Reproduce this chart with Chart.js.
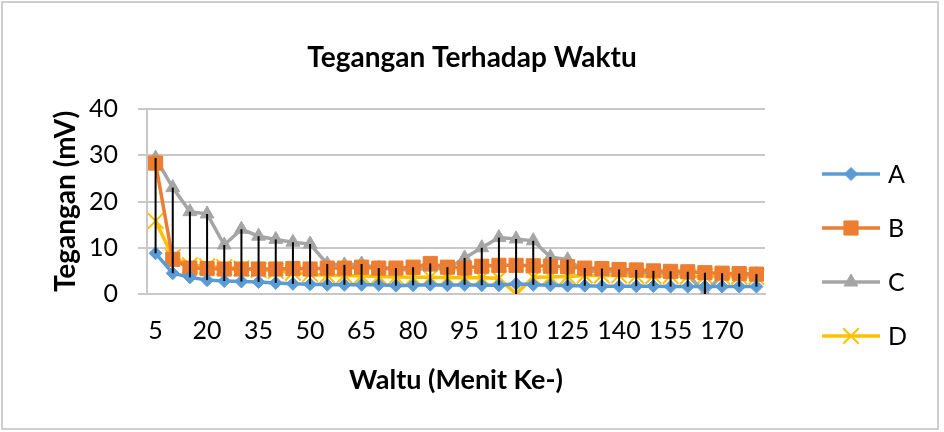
<!DOCTYPE html>
<html>
<head>
<meta charset="utf-8">
<script src="https://cdn.jsdelivr.net/npm/chart.js@4/dist/chart.umd.min.js"></script>
<style>
    html, body { margin: 0; padding: 0; background: #fff; }
</style>
</head>
<body>
<canvas id="voltageChart" width="944" height="432"></canvas>
<script>
// Menit ke- (x categories)
const minutes = [5, 10, 15, 20, 25, 30, 35, 40, 45, 50, 55, 60, 65, 70, 75, 80, 85, 90,
                 95, 100, 105, 110, 115, 120, 125, 130, 135, 140, 145, 150, 155, 160, 165, 170, 175, 180];

// Tegangan (mV) per series
const seriesA = [8.8, 4.5, 3.6, 3.0, 2.8, 2.7, 2.6, 2.4, 2.2, 2.1, 2.0, 2.0, 2.0, 2.0, 1.8, 1.9, 2.0, 1.9,
                 2.0, 1.9, 1.9, 2.2, 2.0, 1.9, 1.8, 1.8, 1.7, 1.7, 1.7, 1.7, 1.6, 1.6, 1.6, 1.6, 1.6, 1.6];
const seriesB = [28.3, 7.5, 5.6, 5.5, 5.4, 5.4, 5.4, 5.4, 5.5, 5.4, 5.6, 5.6, 5.8, 5.6, 5.6, 5.8, 6.6, 5.8,
                 5.6, 6.0, 6.2, 6.2, 6.1, 6.0, 5.9, 5.6, 5.5, 5.3, 5.2, 5.0, 4.9, 4.8, 4.6, 4.5, 4.4, 4.3];
const seriesC = [29.4, 23.0, 17.8, 17.3, 10.6, 14.0, 12.5, 11.8, 11.2, 10.8, 6.5, 6.3, 6.5, 5.6, 5.3, 5.2, 5.8, 5.4,
                 7.8, 10.0, 12.2, 11.9, 11.5, 8.0, 7.4, 5.0, 4.8, 4.8, 4.6, 4.6, 4.5, 4.4, 0, 4.3, 4.2, 4.2];
const seriesD = [15.8, 8.0, 6.2, 6.0, 5.8, 5.5, 5.2, 5.0, 4.6, 4.3, 4.0, 4.0, 3.9, 3.8, 3.7, 3.6, 3.6, 3.5,
                 3.5, 3.5, 3.4, 0, 3.6, 3.7, 3.8, 4.0, 4.0, 4.0, 3.9, 3.9, 3.9, 3.8, 3.8, 3.8, 3.8, 3.7];

const seriesNames = ["A", "B", "C", "D"];
const yTicks = [0, 10, 20, 30, 40];
const chartTitle = "Tegangan Terhadap Waktu";

const FONT = "Lato, 'Open Sans', sans-serif";
const GRID = "#c8c8c8";

function makeSet(label, data, color, style, radius) {
    return {
        label,
        data,
        borderColor: color,
        backgroundColor: color,
        borderWidth: 3.5,
        pointStyle: style,
        pointRadius: radius,
        pointHoverRadius: radius,
        pointBorderWidth: style === "crossRot" ? 2 : 1,
        pointBackgroundColor: color,
        pointBorderColor: color,
        tension: 0,
        fill: false
    };
}

// white background, frame round the chart, title centred on the whole canvas
const frame = {
    id: "frame",
    beforeDraw(chart) {
        const ctx = chart.ctx;
        ctx.save();
        ctx.fillStyle = "#fff";
        ctx.fillRect(0, 0, chart.width, chart.height);
        ctx.strokeStyle = "#bfbfbf";
        ctx.lineWidth = 1.5;
        ctx.strokeRect(2, 2, chart.width - 8, chart.height - 5);
        ctx.fillStyle = "#000";
        ctx.font = "bold 28px " + FONT;
        ctx.textAlign = "center";
        ctx.textBaseline = "middle";
        ctx.fillText(chartTitle, chart.width / 2, 58);
        ctx.restore();
    }
};

// Excel style high-low lines: from the highest to the lowest series value at each category
const highLow = {
    id: "highLow",
    afterDatasetsDraw(chart) {
        const ctx = chart.ctx;
        const x = chart.scales.x, y = chart.scales.y;
        ctx.save();
        ctx.strokeStyle = "#000";
        ctx.lineWidth = 2;
        minutes.forEach((m, i) => {
            const vals = chart.data.datasets.map(ds => ds.data[i]);
            const px = x.getPixelForValue(i);
            ctx.beginPath();
            ctx.moveTo(px, y.getPixelForValue(Math.max(...vals)));
            ctx.lineTo(px, y.getPixelForValue(Math.min(...vals)));
            ctx.stroke();
        });
        ctx.restore();
    }
};

// legend on the right: line with marker, then the name
const sideLegend = {
    id: "sideLegend",
    afterDraw(chart) {
        const ctx = chart.ctx;
        const left = chart.chartArea.right + 57;
        const top = 174, gap = 54;
        ctx.save();
        chart.data.datasets.forEach((ds, i) => {
            const cy = top + i * gap;
            ctx.strokeStyle = ds.borderColor;
            ctx.fillStyle = ds.borderColor;
            ctx.lineWidth = 3.5;
            ctx.beginPath();
            ctx.moveTo(left, cy);
            ctx.lineTo(left + 58, cy);
            ctx.stroke();
            ctx.lineWidth = ds.pointBorderWidth;
            Chart.helpers.drawPoint(ctx, {
                pointStyle: ds.pointStyle,
                radius: ds.pointRadius,
                borderWidth: ds.pointBorderWidth,
                rotation: 0
            }, left + 29, cy);
            ctx.fillStyle = "#000";
            ctx.font = "25px " + FONT;
            ctx.textBaseline = "middle";
            ctx.textAlign = "left";
            ctx.fillText(seriesNames[i], left + 66, cy + 1);
        });
        ctx.restore();
    }
};

new Chart(document.getElementById("voltageChart"), {
    type: "line",
    data: {
        labels: minutes,
        datasets: [
            makeSet(seriesNames[0], seriesA, "#5b9bd5", "rectRot", 6.5),
            makeSet(seriesNames[1], seriesB, "#ed7d31", "rect", 10),
            makeSet(seriesNames[2], seriesC, "#a5a5a5", "triangle", 8),
            makeSet(seriesNames[3], seriesD, "#ffc000", "crossRot", 11)
        ]
    },
    plugins: [frame, highLow, sideLegend],
    options: {
        responsive: false,
        animation: false,
        devicePixelRatio: 1,
        layout: { padding: { left: 10, right: 179, top: 109, bottom: 0 } },
        plugins: {
            legend: { display: false },
            tooltip: { enabled: false },
            title: { display: false }
        },
        scales: {
            x: {
                offset: true,
                grid: { display: false, drawTicks: false },
                border: { display: true, color: GRID, width: 2 },
                ticks: {
                    autoSkip: false,
                    maxRotation: 0,
                    padding: 22,
                    color: "#000",
                    font: { family: FONT, size: 25 },
                    callback: (v, i) => (i % 3 === 0 ? String(minutes[i]) : "")
                },
                title: {
                    display: true,
                    text: "Waltu (Menit Ke-)",
                    color: "#000",
                    font: { family: FONT, size: 27, weight: "bold" },
                    padding: { top: 0, bottom: 36 }
                },
                afterFit: s => { s.height = 138; }
            },
            y: {
                min: yTicks[0],
                max: yTicks[yTicks.length - 1],
                grid: { color: GRID, lineWidth: 2, tickLength: 9, drawTicks: true },
                border: { display: true, color: GRID, width: 2 },
                afterBuildTicks: s => { s.ticks = yTicks.map(v => ({ value: v })); },
                ticks: {
                    padding: 20,
                    color: "#000",
                    font: { family: FONT, size: 25 }
                },
                title: {
                    display: true,
                    text: "Tegangan (mV)",
                    color: "#000",
                    font: { family: FONT, size: 28, weight: "bold" },
                    padding: { top: 39, bottom: 0 }
                },
                afterFit: s => { s.width = 137; }
            }
        }
    }
});
</script>
</body>
</html>
